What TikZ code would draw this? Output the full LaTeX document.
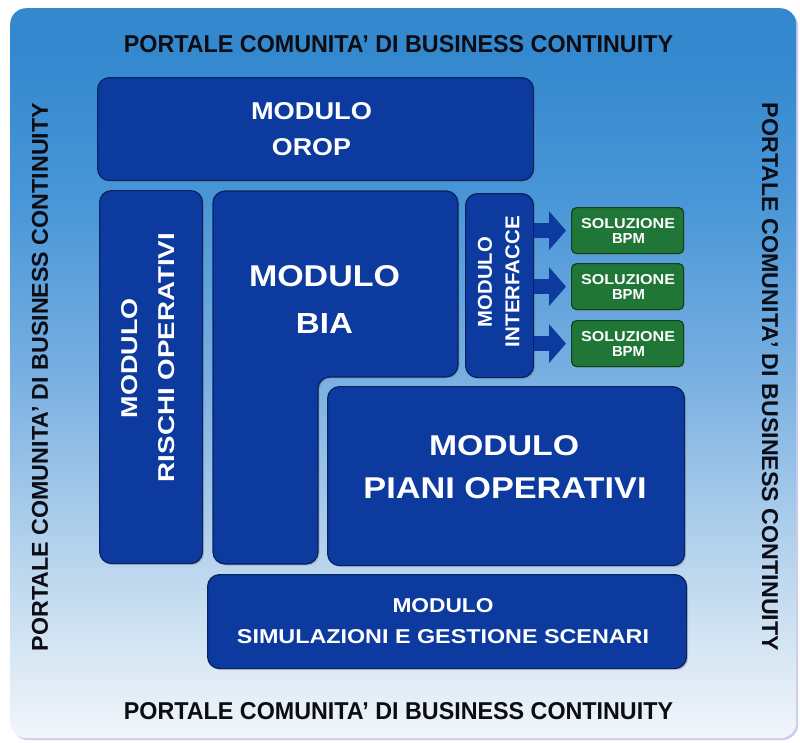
\documentclass[tikz,border=0pt]{standalone}
\usepackage{fontspec}
\setmainfont{Liberation Sans}
\usepackage{graphicx}
\usetikzlibrary{shadows,arrows.meta,calc}
\definecolor{boxblue}{RGB}{12,58,158}
\definecolor{boxedge}{RGB}{8,33,95}
\definecolor{solgreen}{RGB}{32,118,55}
\definecolor{soledge}{RGB}{14,66,28}
\definecolor{bgtop}{RGB}{52,136,206}
\definecolor{bgtopb}{RGB}{72,150,215}
\definecolor{bgmid}{RGB}{120,175,225}
\definecolor{bglow}{RGB}{200,222,240}
\definecolor{bgbot}{RGB}{242,246,251}
\definecolor{titlecol}{RGB}{12,12,20}
\pgfdeclareverticalshading{bgshade}{100bp}{color(0bp)=(bgbot); color(25bp)=(bgbot); color(34bp)=(bglow); color(50bp)=(bgmid); color(62bp)=(bgtopb); color(72bp)=(bgtop); color(75bp)=(bgtop); color(100bp)=(bgtop)}
\newcommand{\rsk}[3]{\resizebox{#1pt}{#2pt}{\bfseries #3}}
\begin{document}
\begin{tikzpicture}[x=1pt,y=-1pt,
  panel/.style={rectangle, shading=bgshade, rounded corners=16pt, inner sep=0pt,
    drop shadow={shadow xshift=2pt, shadow yshift=-2pt, fill=black!30!blue!40, opacity=0.5}},
  modbox/.style={rectangle, draw=boxedge, line width=1.2pt, fill=boxblue, rounded corners=12pt,
    inner sep=0pt, anchor=north west,
    drop shadow={shadow xshift=1.5pt, shadow yshift=-1.5pt, opacity=0.35}},
  solbox/.style={rectangle, draw=soledge, line width=1.2pt, fill=solgreen, rounded corners=5pt,
    inner sep=0pt, anchor=north west, minimum width=112pt, minimum height=46pt,
    drop shadow={shadow xshift=1.2pt, shadow yshift=-1.2pt, opacity=0.35}},
  modtext/.style={text=white, inner sep=0pt},
  titletext/.style={text=titlecol, inner sep=0pt},
  flowarrow/.style={draw=boxblue, line width=15pt, -{Triangle[length=17pt,width=38pt]}}
]
\useasboundingbox (0,0) rectangle (800,742);
\node[panel, minimum width=786pt, minimum height=730pt, anchor=north west] (panel) at (10,8) {};

% titles
\node[titletext] (ttop) at (398.5,44.5) {\rsk{549}{17}{PORTALE COMUNITA’ DI BUSINESS CONTINUITY}};
\node[titletext] (tbot) at (398.5,711.5) {\rsk{549}{17}{PORTALE COMUNITA’ DI BUSINESS CONTINUITY}};
\node[titletext, rotate=90] (tleft) at (40,377) {\rsk{548}{16}{PORTALE COMUNITA’ DI BUSINESS CONTINUITY}};
\node[titletext, rotate=-90] (tright) at (770,377) {\rsk{548}{16}{PORTALE COMUNITA’ DI BUSINESS CONTINUITY}};

% modules
\node[modbox, minimum width=436pt, minimum height=103pt] (orop) at (97,77) {};
\node[modbox, minimum width=103pt, minimum height=373pt] (rischi) at (99,190) {};
\path[draw=boxedge, line width=1.2pt, fill=boxblue, rounded corners=12pt,
    drop shadow={shadow xshift=1.5pt, shadow yshift=-1.5pt, opacity=0.35}]
  (213,191) -- (458,191) -- (458,377) -- (318,377) -- (318,564) -- (213,564) -- cycle;
\coordinate (bia) at (335,284);
\node[modbox, minimum width=68pt, minimum height=184pt] (intf) at (465,193) {};
\node[modbox, minimum width=357pt, minimum height=179pt] (piani) at (327,386) {};
\node[modbox, minimum width=479pt, minimum height=94pt] (sim) at (207,574) {};

% solutions
\node[solbox] (sol1) at (571,207) {};
\node[solbox] (sol2) at (571,263) {};
\node[solbox] (sol3) at (571,320) {};

% arrows
\draw[flowarrow] (intf.east |- sol1.west) -- ($(sol1.west)+(-5,0)$);
\draw[flowarrow] (intf.east |- sol2.west) -- ($(sol2.west)+(-5,0)$);
\draw[flowarrow] (intf.east |- sol3.west) -- ($(sol3.west)+(-5,0)$);

% module texts
\node[modtext] (orop1) at (311.5,111.5) {\rsk{121}{17}{MODULO}};
\node[modtext] (orop2) at (311.5,147) {\rsk{79}{17}{OROP}};
\node[modtext] (bia1) at (324.5,276.5) {\rsk{151}{21}{MODULO}};
\node[modtext] (bia2) at (324.5,323) {\rsk{57}{20}{BIA}};
\node[modtext] (piani1) at (504,446) {\rsk{150}{20}{MODULO}};
\node[modtext] (piani2) at (505,488.5) {\rsk{283}{21}{PIANI OPERATIVI}};
\node[modtext, rotate=90] (rischi1) at (129.5,358) {\rsk{120}{16}{MODULO}};
\node[modtext, rotate=90] (rischi2) at (166.5,357.5) {\rsk{249}{16}{RISCHI OPERATIVI}};
\node[modtext, rotate=90] (intf1) at (485,282) {\rsk{90}{14}{MODULO}};
\node[modtext, rotate=90] (intf2) at (512.5,281.5) {\rsk{131}{14}{INTERFACCE}};
\node[modtext] (sim1) at (443,606) {\rsk{101}{14}{MODULO}};
\node[modtext] (sim2) at (443,636.5) {\rsk{412}{14}{SIMULAZIONI E GESTIONE SCENARI}};

% solution texts
\node[modtext] (s1a) at (628,224) {\rsk{94}{10}{SOLUZIONE}};
\node[modtext] (s1b) at (628.5,238) {\rsk{33}{10}{BPM}};
\node[modtext] (s2a) at (628,280) {\rsk{94}{10}{SOLUZIONE}};
\node[modtext] (s2b) at (628.5,294) {\rsk{33}{10}{BPM}};
\node[modtext] (s3a) at (628,337) {\rsk{94}{10}{SOLUZIONE}};
\node[modtext] (s3b) at (628.5,351) {\rsk{33}{10}{BPM}};
\end{tikzpicture}
\end{document}
